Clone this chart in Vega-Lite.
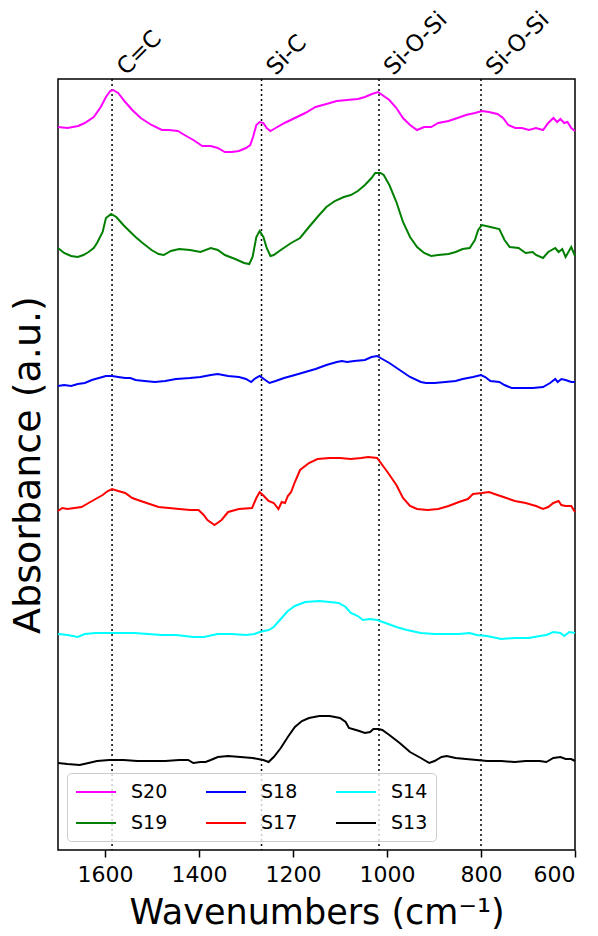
{
  "$schema": "https://vega.github.io/schema/vega-lite/v6.json",
  "width": 517,
  "height": 771,
  "autosize": {"type": "none"},
  "padding": {"left": 58, "top": 79, "right": 23, "bottom": 86},
  "background": "white",
  "config": {
    "font": "DejaVu Sans",
    "view": {"stroke": "black", "strokeWidth": 1.5}
  },
  "datasets": {
    "bands": [
      {"wn": 1585, "label": "C=C"},
      {"wn": 1267, "label": "Si-C"},
      {"wn": 1017, "label": "Si-O-Si"},
      {"wn": 800, "label": "Si-O-Si"}
    ],
    "spectra": [
      {"sample":"S20","wn":1700,"abs":7.23},{"sample":"S20","wn":1680,"abs":7.22},{"sample":"S20","wn":1657,"abs":7.24},{"sample":"S20","wn":1643,"abs":7.27},{"sample":"S20","wn":1624,"abs":7.33},{"sample":"S20","wn":1609,"abs":7.43},{"sample":"S20","wn":1598,"abs":7.53},{"sample":"S20","wn":1589,"abs":7.59},{"sample":"S20","wn":1583,"abs":7.60},{"sample":"S20","wn":1572,"abs":7.57},{"sample":"S20","wn":1557,"abs":7.48},{"sample":"S20","wn":1542,"abs":7.40},{"sample":"S20","wn":1524,"abs":7.32},{"sample":"S20","wn":1501,"abs":7.25},{"sample":"S20","wn":1479,"abs":7.20},{"sample":"S20","wn":1464,"abs":7.20},{"sample":"S20","wn":1445,"abs":7.19},{"sample":"S20","wn":1431,"abs":7.15},{"sample":"S20","wn":1412,"abs":7.10},{"sample":"S20","wn":1393,"abs":7.04},{"sample":"S20","wn":1375,"abs":7.04},{"sample":"S20","wn":1360,"abs":7.02},{"sample":"S20","wn":1345,"abs":6.98},{"sample":"S20","wn":1330,"abs":6.98},{"sample":"S20","wn":1315,"abs":6.99},{"sample":"S20","wn":1300,"abs":7.02},{"sample":"S20","wn":1291,"abs":7.05},{"sample":"S20","wn":1285,"abs":7.13},{"sample":"S20","wn":1278,"abs":7.25},{"sample":"S20","wn":1271,"abs":7.28},{"sample":"S20","wn":1263,"abs":7.27},{"sample":"S20","wn":1256,"abs":7.22},{"sample":"S20","wn":1248,"abs":7.19},{"sample":"S20","wn":1237,"abs":7.22},{"sample":"S20","wn":1218,"abs":7.27},{"sample":"S20","wn":1196,"abs":7.32},{"sample":"S20","wn":1174,"abs":7.37},{"sample":"S20","wn":1152,"abs":7.43},{"sample":"S20","wn":1129,"abs":7.46},{"sample":"S20","wn":1107,"abs":7.49},{"sample":"S20","wn":1085,"abs":7.50},{"sample":"S20","wn":1062,"abs":7.51},{"sample":"S20","wn":1047,"abs":7.53},{"sample":"S20","wn":1032,"abs":7.56},{"sample":"S20","wn":1019,"abs":7.58},{"sample":"S20","wn":1010,"abs":7.55},{"sample":"S20","wn":995,"abs":7.50},{"sample":"S20","wn":980,"abs":7.42},{"sample":"S20","wn":966,"abs":7.32},{"sample":"S20","wn":951,"abs":7.25},{"sample":"S20","wn":936,"abs":7.20},{"sample":"S20","wn":921,"abs":7.23},{"sample":"S20","wn":906,"abs":7.23},{"sample":"S20","wn":891,"abs":7.27},{"sample":"S20","wn":869,"abs":7.29},{"sample":"S20","wn":850,"abs":7.32},{"sample":"S20","wn":832,"abs":7.35},{"sample":"S20","wn":813,"abs":7.37},{"sample":"S20","wn":798,"abs":7.39},{"sample":"S20","wn":783,"abs":7.38},{"sample":"S20","wn":765,"abs":7.36},{"sample":"S20","wn":753,"abs":7.32},{"sample":"S20","wn":742,"abs":7.25},{"sample":"S20","wn":727,"abs":7.22},{"sample":"S20","wn":713,"abs":7.22},{"sample":"S20","wn":698,"abs":7.20},{"sample":"S20","wn":683,"abs":7.22},{"sample":"S20","wn":668,"abs":7.20},{"sample":"S20","wn":657,"abs":7.27},{"sample":"S20","wn":646,"abs":7.32},{"sample":"S20","wn":638,"abs":7.28},{"sample":"S20","wn":631,"abs":7.31},{"sample":"S20","wn":623,"abs":7.27},{"sample":"S20","wn":616,"abs":7.28},{"sample":"S20","wn":608,"abs":7.22},{"sample":"S20","wn":600,"abs":7.19},

      {"sample":"S19","wn":1700,"abs":6.02},{"sample":"S19","wn":1687,"abs":5.97},{"sample":"S19","wn":1672,"abs":5.94},{"sample":"S19","wn":1658,"abs":5.93},{"sample":"S19","wn":1646,"abs":5.95},{"sample":"S19","wn":1635,"abs":5.98},{"sample":"S19","wn":1624,"abs":6.02},{"sample":"S19","wn":1617,"abs":6.07},{"sample":"S19","wn":1605,"abs":6.18},{"sample":"S19","wn":1598,"abs":6.32},{"sample":"S19","wn":1587,"abs":6.36},{"sample":"S19","wn":1576,"abs":6.33},{"sample":"S19","wn":1561,"abs":6.25},{"sample":"S19","wn":1546,"abs":6.18},{"sample":"S19","wn":1535,"abs":6.13},{"sample":"S19","wn":1520,"abs":6.07},{"sample":"S19","wn":1501,"abs":6.00},{"sample":"S19","wn":1486,"abs":5.96},{"sample":"S19","wn":1475,"abs":5.95},{"sample":"S19","wn":1460,"abs":5.99},{"sample":"S19","wn":1442,"abs":6.01},{"sample":"S19","wn":1419,"abs":6.00},{"sample":"S19","wn":1397,"abs":5.98},{"sample":"S19","wn":1375,"abs":6.02},{"sample":"S19","wn":1360,"abs":6.00},{"sample":"S19","wn":1345,"abs":5.95},{"sample":"S19","wn":1323,"abs":5.91},{"sample":"S19","wn":1304,"abs":5.87},{"sample":"S19","wn":1293,"abs":5.86},{"sample":"S19","wn":1286,"abs":5.93},{"sample":"S19","wn":1278,"abs":6.13},{"sample":"S19","wn":1271,"abs":6.19},{"sample":"S19","wn":1263,"abs":6.13},{"sample":"S19","wn":1256,"abs":6.02},{"sample":"S19","wn":1248,"abs":5.94},{"sample":"S19","wn":1241,"abs":5.95},{"sample":"S19","wn":1226,"abs":6.00},{"sample":"S19","wn":1204,"abs":6.07},{"sample":"S19","wn":1185,"abs":6.12},{"sample":"S19","wn":1166,"abs":6.23},{"sample":"S19","wn":1148,"abs":6.33},{"sample":"S19","wn":1129,"abs":6.43},{"sample":"S19","wn":1111,"abs":6.49},{"sample":"S19","wn":1092,"abs":6.53},{"sample":"S19","wn":1077,"abs":6.55},{"sample":"S19","wn":1062,"abs":6.59},{"sample":"S19","wn":1047,"abs":6.65},{"sample":"S19","wn":1033,"abs":6.72},{"sample":"S19","wn":1025,"abs":6.77},{"sample":"S19","wn":1014,"abs":6.77},{"sample":"S19","wn":1007,"abs":6.75},{"sample":"S19","wn":995,"abs":6.65},{"sample":"S19","wn":980,"abs":6.48},{"sample":"S19","wn":966,"abs":6.28},{"sample":"S19","wn":951,"abs":6.13},{"sample":"S19","wn":936,"abs":6.03},{"sample":"S19","wn":921,"abs":5.97},{"sample":"S19","wn":906,"abs":5.94},{"sample":"S19","wn":891,"abs":5.95},{"sample":"S19","wn":869,"abs":5.96},{"sample":"S19","wn":854,"abs":5.98},{"sample":"S19","wn":839,"abs":6.01},{"sample":"S19","wn":824,"abs":6.02},{"sample":"S19","wn":813,"abs":6.10},{"sample":"S19","wn":806,"abs":6.20},{"sample":"S19","wn":798,"abs":6.25},{"sample":"S19","wn":780,"abs":6.23},{"sample":"S19","wn":761,"abs":6.21},{"sample":"S19","wn":750,"abs":6.10},{"sample":"S19","wn":739,"abs":6.03},{"sample":"S19","wn":720,"abs":6.02},{"sample":"S19","wn":705,"abs":5.97},{"sample":"S19","wn":690,"abs":5.98},{"sample":"S19","wn":683,"abs":5.95},{"sample":"S19","wn":668,"abs":5.92},{"sample":"S19","wn":657,"abs":5.98},{"sample":"S19","wn":642,"abs":6.02},{"sample":"S19","wn":635,"abs":5.98},{"sample":"S19","wn":627,"abs":6.01},{"sample":"S19","wn":620,"abs":5.93},{"sample":"S19","wn":608,"abs":6.03},{"sample":"S19","wn":600,"abs":5.94},

      {"sample":"S18","wn":1700,"abs":4.64},{"sample":"S18","wn":1687,"abs":4.65},{"sample":"S18","wn":1672,"abs":4.64},{"sample":"S18","wn":1658,"abs":4.66},{"sample":"S18","wn":1643,"abs":4.67},{"sample":"S18","wn":1628,"abs":4.70},{"sample":"S18","wn":1613,"abs":4.72},{"sample":"S18","wn":1598,"abs":4.74},{"sample":"S18","wn":1585,"abs":4.74},{"sample":"S18","wn":1572,"abs":4.73},{"sample":"S18","wn":1557,"abs":4.72},{"sample":"S18","wn":1546,"abs":4.72},{"sample":"S18","wn":1535,"abs":4.70},{"sample":"S18","wn":1516,"abs":4.69},{"sample":"S18","wn":1494,"abs":4.68},{"sample":"S18","wn":1472,"abs":4.69},{"sample":"S18","wn":1449,"abs":4.71},{"sample":"S18","wn":1419,"abs":4.72},{"sample":"S18","wn":1397,"abs":4.73},{"sample":"S18","wn":1375,"abs":4.75},{"sample":"S18","wn":1360,"abs":4.76},{"sample":"S18","wn":1338,"abs":4.74},{"sample":"S18","wn":1315,"abs":4.73},{"sample":"S18","wn":1300,"abs":4.71},{"sample":"S18","wn":1289,"abs":4.68},{"sample":"S18","wn":1282,"abs":4.71},{"sample":"S18","wn":1271,"abs":4.74},{"sample":"S18","wn":1262,"abs":4.71},{"sample":"S18","wn":1250,"abs":4.67},{"sample":"S18","wn":1237,"abs":4.69},{"sample":"S18","wn":1219,"abs":4.72},{"sample":"S18","wn":1196,"abs":4.75},{"sample":"S18","wn":1174,"abs":4.78},{"sample":"S18","wn":1152,"abs":4.81},{"sample":"S18","wn":1129,"abs":4.85},{"sample":"S18","wn":1107,"abs":4.88},{"sample":"S18","wn":1096,"abs":4.89},{"sample":"S18","wn":1085,"abs":4.88},{"sample":"S18","wn":1070,"abs":4.89},{"sample":"S18","wn":1047,"abs":4.90},{"sample":"S18","wn":1033,"abs":4.93},{"sample":"S18","wn":1021,"abs":4.94},{"sample":"S18","wn":1010,"abs":4.91},{"sample":"S18","wn":995,"abs":4.87},{"sample":"S18","wn":973,"abs":4.80},{"sample":"S18","wn":951,"abs":4.73},{"sample":"S18","wn":928,"abs":4.68},{"sample":"S18","wn":917,"abs":4.67},{"sample":"S18","wn":899,"abs":4.67},{"sample":"S18","wn":876,"abs":4.68},{"sample":"S18","wn":854,"abs":4.69},{"sample":"S18","wn":839,"abs":4.71},{"sample":"S18","wn":817,"abs":4.73},{"sample":"S18","wn":800,"abs":4.75},{"sample":"S18","wn":791,"abs":4.73},{"sample":"S18","wn":780,"abs":4.69},{"sample":"S18","wn":761,"abs":4.68},{"sample":"S18","wn":750,"abs":4.65},{"sample":"S18","wn":735,"abs":4.62},{"sample":"S18","wn":713,"abs":4.62},{"sample":"S18","wn":690,"abs":4.62},{"sample":"S18","wn":668,"abs":4.63},{"sample":"S18","wn":653,"abs":4.67},{"sample":"S18","wn":642,"abs":4.71},{"sample":"S18","wn":637,"abs":4.68},{"sample":"S18","wn":629,"abs":4.71},{"sample":"S18","wn":620,"abs":4.70},{"sample":"S18","wn":608,"abs":4.68},{"sample":"S18","wn":600,"abs":4.68},

      {"sample":"S17","wn":1700,"abs":3.39},{"sample":"S17","wn":1691,"abs":3.42},{"sample":"S17","wn":1680,"abs":3.41},{"sample":"S17","wn":1665,"abs":3.42},{"sample":"S17","wn":1650,"abs":3.43},{"sample":"S17","wn":1635,"abs":3.47},{"sample":"S17","wn":1620,"abs":3.51},{"sample":"S17","wn":1605,"abs":3.55},{"sample":"S17","wn":1594,"abs":3.59},{"sample":"S17","wn":1585,"abs":3.61},{"sample":"S17","wn":1572,"abs":3.59},{"sample":"S17","wn":1557,"abs":3.57},{"sample":"S17","wn":1542,"abs":3.52},{"sample":"S17","wn":1524,"abs":3.49},{"sample":"S17","wn":1505,"abs":3.46},{"sample":"S17","wn":1486,"abs":3.43},{"sample":"S17","wn":1464,"abs":3.42},{"sample":"S17","wn":1442,"abs":3.41},{"sample":"S17","wn":1419,"abs":3.40},{"sample":"S17","wn":1401,"abs":3.40},{"sample":"S17","wn":1390,"abs":3.35},{"sample":"S17","wn":1382,"abs":3.30},{"sample":"S17","wn":1367,"abs":3.25},{"sample":"S17","wn":1352,"abs":3.30},{"sample":"S17","wn":1338,"abs":3.38},{"sample":"S17","wn":1315,"abs":3.41},{"sample":"S17","wn":1287,"abs":3.42},{"sample":"S17","wn":1278,"abs":3.52},{"sample":"S17","wn":1271,"abs":3.58},{"sample":"S17","wn":1262,"abs":3.54},{"sample":"S17","wn":1252,"abs":3.49},{"sample":"S17","wn":1241,"abs":3.47},{"sample":"S17","wn":1231,"abs":3.41},{"sample":"S17","wn":1224,"abs":3.48},{"sample":"S17","wn":1217,"abs":3.47},{"sample":"S17","wn":1211,"abs":3.54},{"sample":"S17","wn":1204,"abs":3.58},{"sample":"S17","wn":1196,"abs":3.68},{"sample":"S17","wn":1185,"abs":3.80},{"sample":"S17","wn":1166,"abs":3.87},{"sample":"S17","wn":1148,"abs":3.91},{"sample":"S17","wn":1122,"abs":3.92},{"sample":"S17","wn":1100,"abs":3.92},{"sample":"S17","wn":1077,"abs":3.91},{"sample":"S17","wn":1055,"abs":3.92},{"sample":"S17","wn":1040,"abs":3.93},{"sample":"S17","wn":1021,"abs":3.92},{"sample":"S17","wn":1010,"abs":3.85},{"sample":"S17","wn":999,"abs":3.78},{"sample":"S17","wn":980,"abs":3.65},{"sample":"S17","wn":966,"abs":3.52},{"sample":"S17","wn":951,"abs":3.44},{"sample":"S17","wn":936,"abs":3.41},{"sample":"S17","wn":914,"abs":3.40},{"sample":"S17","wn":891,"abs":3.41},{"sample":"S17","wn":869,"abs":3.44},{"sample":"S17","wn":847,"abs":3.48},{"sample":"S17","wn":828,"abs":3.51},{"sample":"S17","wn":817,"abs":3.56},{"sample":"S17","wn":798,"abs":3.57},{"sample":"S17","wn":783,"abs":3.58},{"sample":"S17","wn":765,"abs":3.55},{"sample":"S17","wn":746,"abs":3.52},{"sample":"S17","wn":728,"abs":3.49},{"sample":"S17","wn":705,"abs":3.47},{"sample":"S17","wn":683,"abs":3.44},{"sample":"S17","wn":668,"abs":3.41},{"sample":"S17","wn":657,"abs":3.43},{"sample":"S17","wn":646,"abs":3.47},{"sample":"S17","wn":635,"abs":3.49},{"sample":"S17","wn":629,"abs":3.45},{"sample":"S17","wn":620,"abs":3.44},{"sample":"S17","wn":608,"abs":3.44},{"sample":"S17","wn":600,"abs":3.38},

      {"sample":"S14","wn":1700,"abs":2.16},{"sample":"S14","wn":1680,"abs":2.15},{"sample":"S14","wn":1658,"abs":2.13},{"sample":"S14","wn":1643,"abs":2.16},{"sample":"S14","wn":1620,"abs":2.17},{"sample":"S14","wn":1598,"abs":2.17},{"sample":"S14","wn":1568,"abs":2.17},{"sample":"S14","wn":1538,"abs":2.17},{"sample":"S14","wn":1509,"abs":2.16},{"sample":"S14","wn":1479,"abs":2.15},{"sample":"S14","wn":1449,"abs":2.15},{"sample":"S14","wn":1412,"abs":2.13},{"sample":"S14","wn":1390,"abs":2.13},{"sample":"S14","wn":1360,"abs":2.16},{"sample":"S14","wn":1330,"abs":2.16},{"sample":"S14","wn":1300,"abs":2.15},{"sample":"S14","wn":1282,"abs":2.16},{"sample":"S14","wn":1271,"abs":2.18},{"sample":"S14","wn":1252,"abs":2.20},{"sample":"S14","wn":1241,"abs":2.23},{"sample":"S14","wn":1226,"abs":2.31},{"sample":"S14","wn":1211,"abs":2.39},{"sample":"S14","wn":1196,"abs":2.44},{"sample":"S14","wn":1174,"abs":2.48},{"sample":"S14","wn":1144,"abs":2.49},{"sample":"S14","wn":1122,"abs":2.48},{"sample":"S14","wn":1103,"abs":2.47},{"sample":"S14","wn":1088,"abs":2.43},{"sample":"S14","wn":1077,"abs":2.37},{"sample":"S14","wn":1062,"abs":2.34},{"sample":"S14","wn":1051,"abs":2.30},{"sample":"S14","wn":1036,"abs":2.31},{"sample":"S14","wn":1021,"abs":2.30},{"sample":"S14","wn":1003,"abs":2.27},{"sample":"S14","wn":980,"abs":2.23},{"sample":"S14","wn":958,"abs":2.20},{"sample":"S14","wn":928,"abs":2.17},{"sample":"S14","wn":899,"abs":2.16},{"sample":"S14","wn":869,"abs":2.16},{"sample":"S14","wn":847,"abs":2.16},{"sample":"S14","wn":824,"abs":2.17},{"sample":"S14","wn":809,"abs":2.15},{"sample":"S14","wn":787,"abs":2.14},{"sample":"S14","wn":757,"abs":2.11},{"sample":"S14","wn":728,"abs":2.12},{"sample":"S14","wn":698,"abs":2.12},{"sample":"S14","wn":675,"abs":2.14},{"sample":"S14","wn":661,"abs":2.15},{"sample":"S14","wn":646,"abs":2.18},{"sample":"S14","wn":631,"abs":2.17},{"sample":"S14","wn":623,"abs":2.14},{"sample":"S14","wn":612,"abs":2.18},{"sample":"S14","wn":600,"abs":2.17},

      {"sample":"S13","wn":1700,"abs":0.87},{"sample":"S13","wn":1680,"abs":0.86},{"sample":"S13","wn":1654,"abs":0.85},{"sample":"S13","wn":1635,"abs":0.87},{"sample":"S13","wn":1617,"abs":0.89},{"sample":"S13","wn":1591,"abs":0.90},{"sample":"S13","wn":1561,"abs":0.90},{"sample":"S13","wn":1531,"abs":0.89},{"sample":"S13","wn":1501,"abs":0.89},{"sample":"S13","wn":1472,"abs":0.89},{"sample":"S13","wn":1442,"abs":0.90},{"sample":"S13","wn":1423,"abs":0.90},{"sample":"S13","wn":1412,"abs":0.87},{"sample":"S13","wn":1397,"abs":0.88},{"sample":"S13","wn":1386,"abs":0.88},{"sample":"S13","wn":1375,"abs":0.90},{"sample":"S13","wn":1360,"abs":0.93},{"sample":"S13","wn":1338,"abs":0.94},{"sample":"S13","wn":1312,"abs":0.93},{"sample":"S13","wn":1286,"abs":0.92},{"sample":"S13","wn":1263,"abs":0.90},{"sample":"S13","wn":1252,"abs":0.88},{"sample":"S13","wn":1241,"abs":0.93},{"sample":"S13","wn":1226,"abs":1.02},{"sample":"S13","wn":1211,"abs":1.13},{"sample":"S13","wn":1196,"abs":1.23},{"sample":"S13","wn":1181,"abs":1.29},{"sample":"S13","wn":1166,"abs":1.32},{"sample":"S13","wn":1144,"abs":1.34},{"sample":"S13","wn":1122,"abs":1.34},{"sample":"S13","wn":1100,"abs":1.32},{"sample":"S13","wn":1088,"abs":1.28},{"sample":"S13","wn":1081,"abs":1.22},{"sample":"S13","wn":1066,"abs":1.20},{"sample":"S13","wn":1059,"abs":1.19},{"sample":"S13","wn":1047,"abs":1.17},{"sample":"S13","wn":1036,"abs":1.18},{"sample":"S13","wn":1029,"abs":1.21},{"sample":"S13","wn":1018,"abs":1.21},{"sample":"S13","wn":1010,"abs":1.20},{"sample":"S13","wn":995,"abs":1.15},{"sample":"S13","wn":973,"abs":1.07},{"sample":"S13","wn":951,"abs":0.98},{"sample":"S13","wn":928,"abs":0.92},{"sample":"S13","wn":910,"abs":0.87},{"sample":"S13","wn":899,"abs":0.89},{"sample":"S13","wn":884,"abs":0.93},{"sample":"S13","wn":873,"abs":0.94},{"sample":"S13","wn":854,"abs":0.92},{"sample":"S13","wn":832,"abs":0.91},{"sample":"S13","wn":809,"abs":0.90},{"sample":"S13","wn":787,"abs":0.89},{"sample":"S13","wn":757,"abs":0.89},{"sample":"S13","wn":728,"abs":0.88},{"sample":"S13","wn":705,"abs":0.89},{"sample":"S13","wn":675,"abs":0.89},{"sample":"S13","wn":661,"abs":0.88},{"sample":"S13","wn":646,"abs":0.92},{"sample":"S13","wn":631,"abs":0.93},{"sample":"S13","wn":620,"abs":0.91},{"sample":"S13","wn":608,"abs":0.91},{"sample":"S13","wn":600,"abs":0.89}
    ]
  },
  "encoding": {
    "x": {
      "field": "wn",
      "type": "quantitative",
      "scale": {"domain": [600, 1700], "reverse": true, "nice": false, "zero": false},
      "axis": {
        "title": "Wavenumbers (cm⁻¹)",
        "values": [1600, 1400, 1200, 1000, 800, 600],
        "format": "d",
        "grid": false,
        "domain": false,
        "tickColor": "black",
        "tickSize": 7,
        "tickWidth": 1.5,
        "labelFontSize": 22,
        "labelColor": "black",
        "labelPadding": 7,
        "labelFont": "DejaVu Sans",
        "titleFont": "DejaVu Sans",
        "titleFontSize": 35,
        "titleFontWeight": "normal",
        "titleColor": "black",
        "titlePadding": 10
      }
    }
  },
  "layer": [
    {
      "data": {"name": "bands"},
      "mark": {"type": "rule", "color": "black", "strokeWidth": 1.5, "strokeDash": [2, 3]},
      "encoding": {}
    },
    {
      "data": {"name": "spectra"},
      "mark": {"type": "line", "strokeWidth": 2},
      "encoding": {
        "y": {
          "field": "abs",
          "type": "quantitative",
          "scale": {"domain": [0, 7.71], "nice": false, "zero": false},
          "axis": {
            "title": "Absorbance (a.u.)",
            "labels": false,
            "ticks": false,
            "domain": false,
            "grid": false,
            "titleFont": "DejaVu Sans",
            "titleFontSize": 38,
            "titleFontWeight": "normal",
            "titleColor": "black",
            "titlePadding": 11
          }
        },
        "color": {
          "field": "sample",
          "type": "nominal",
          "scale": {
            "domain": ["S20", "S19", "S18", "S17", "S14", "S13"],
            "range": ["#ff00ff", "#008000", "#0000ff", "#ff0000", "#00ffff", "#000000"]
          },
          "legend": {
            "title": null,
            "orient": "bottom-left",
            "direction": "vertical",
            "offset": 9,
            "columns": 3,
            "columnPadding": 34,
            "rowPadding": 10,
            "padding": 8,
            "labelFont": "DejaVu Sans",
            "labelFontSize": 19,
            "labelColor": "black",
            "labelOffset": 34,
            "symbolType": "M-1,0H3",
            "symbolSize": 400,
            "symbolStrokeWidth": 2,
            "fillColor": "rgba(255,255,255,0.8)",
            "strokeColor": "#cccccc",
            "cornerRadius": 4
          }
        }
      }
    },
    {
      "data": {"name": "bands"},
      "mark": {"type": "text", "angle": -45, "align": "left", "baseline": "alphabetic", "dx": 12, "dy": 8, "fontSize": 23, "font": "DejaVu Sans", "color": "black"},
      "encoding": {
        "y": {"datum": 7.71, "type": "quantitative"},
        "text": {"field": "label"}
      }
    }
  ]
}
